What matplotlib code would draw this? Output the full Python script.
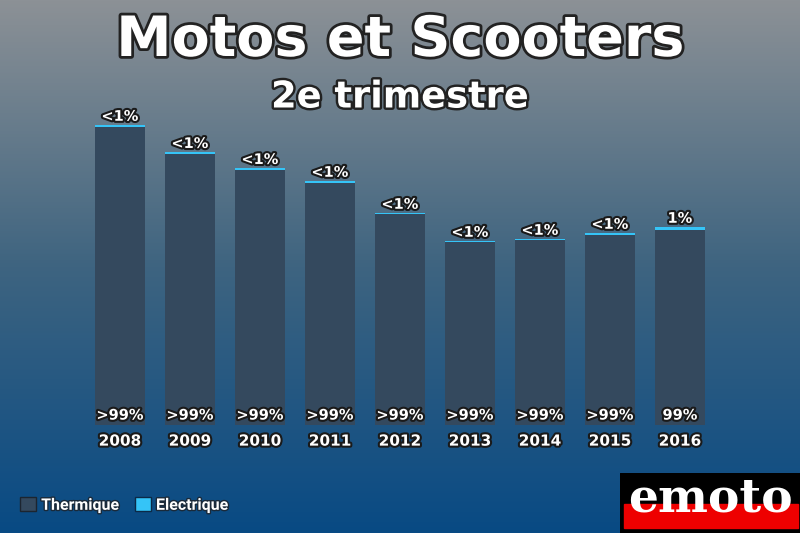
import numpy as np
import matplotlib

matplotlib.use("Agg")
import matplotlib.pyplot as plt
import matplotlib.patheffects as pe
from matplotlib.patches import Rectangle

plt.rcParams["font.family"] = ["DejaVu Sans"]

years = ["2008", "2009", "2010", "2011", "2012", "2013", "2014", "2015", "2016"]
# total registrations (approx)
totals = [75000, 68200, 64200, 61000, 53000, 46000, 46500, 48000, 49500]
elec_share = [0.7, 0.7, 0.7, 0.7, 0.7, 0.7, 0.7, 0.8, 1.3]  # percent
top_labels = ["<1%", "<1%", "<1%", "<1%", "<1%", "<1%", "<1%", "<1%", "1%"]
bottom_labels = [">99%", ">99%", ">99%", ">99%", ">99%", ">99%", ">99%", ">99%", "99%"]

col_thermique = "#34495e"
col_electrique = "#35c4f7"

W, H = 800, 533
fig = plt.figure(figsize=(W / 100, H / 100), dpi=100)

# background gradient
bg = fig.add_axes([0, 0, 1, 1], zorder=0)
top = np.array([140, 145, 150]) / 255
mid = np.array([62, 100, 128]) / 255
bot = np.array([8, 74, 132]) / 255
t = np.linspace(0, 1, 256)[:, None]
grad = np.where(t < 0.5, top + (mid - top) * (t / 0.5), mid + (bot - mid) * ((t - 0.5) / 0.5))
bg.imshow(grad[:, None, :], aspect="auto", extent=[0, 1, 0, 1])
bg.set_axis_off()

outline = [pe.withStroke(linewidth=3, foreground="#1a1a1a")]

fig.text(0.5, 1 - 41 / H, "Motos et Scooters", ha="center", va="center", color="white",
         fontsize=40, fontweight="bold", path_effects=[pe.withStroke(linewidth=4, foreground="#222")])
fig.text(0.5, 1 - 97 / H, "2e trimestre", ha="center", va="center", color="white",
         fontsize=26.5, fontweight="bold", path_effects=[pe.withStroke(linewidth=3.5, foreground="#222")])

# bars axes: 70px per category, baseline at y=425 from top
ax = fig.add_axes([85 / W, (H - 425) / H, 630 / W, 310 / H], zorder=1)
ax.patch.set_alpha(0)
x = np.arange(len(years))
totals_a = np.array(totals, dtype=float)
elec = totals_a * np.array(elec_share) / 100
therm = totals_a - elec
ax.bar(x, therm, width=50 / 70, color=col_thermique, label="Thermique")
ax.bar(x, elec, width=50 / 70, bottom=therm, color=col_electrique, label="Electrique")
ax.set_xlim(-0.5, len(years) - 0.5)
ymax = max(totals) * 310 / 300
ax.set_ylim(0, ymax)
ax.set_axis_off()

for i in range(len(years)):
    ax.text(x[i], totals_a[i] + ymax * 0.004, top_labels[i], ha="center", va="bottom", color="white",
            fontsize=10.5, fontweight="bold", path_effects=outline)
    ax.text(x[i], ymax * 0.032, bottom_labels[i], ha="center", va="center", color="white",
            fontsize=10.5, fontweight="bold", path_effects=outline)
    ax.text(x[i], -ymax * 0.052, years[i], ha="center", va="center", color="white",
            fontsize=11, fontweight="bold", path_effects=outline, clip_on=False)

# legend
handles = [Rectangle((0, 0), 1, 1, facecolor=col_thermique, edgecolor="#1c2530", linewidth=1),
           Rectangle((0, 0), 1, 1, facecolor=col_electrique, edgecolor="#0c2a48", linewidth=1)]
leg = fig.legend(handles, ["Thermique", "Electrique"], loc="center left",
                 bbox_to_anchor=(6 / W, 1 - 505 / H), ncol=2, frameon=False,
                 handlelength=1.0, handleheight=1.0, handletextpad=0.3, columnspacing=1.0,
                 prop={"family": ["Roboto", "DejaVu Sans"], "weight": "bold", "size": 11.5})
for txt in leg.get_texts():
    txt.set_color("white")
    txt.set_path_effects([pe.withStroke(linewidth=2, foreground="#1a2a3a")])

# logo
logo = fig.add_axes([620 / W, 0, 180 / W, 60 / H], zorder=2)
logo.set_xlim(0, 180)
logo.set_ylim(0, 60)
logo.add_patch(Rectangle((0, 0), 180, 60, color="black"))
logo.add_patch(Rectangle((4, 5), 174, 24, color="#ee0000"))
logo.text(90, 34, "emoto", ha="center", va="center", color="white", fontsize=34,
          fontweight="bold", family=["DejaVu Serif"])
logo.set_axis_off()

fig.savefig("out.png", dpi=100)
